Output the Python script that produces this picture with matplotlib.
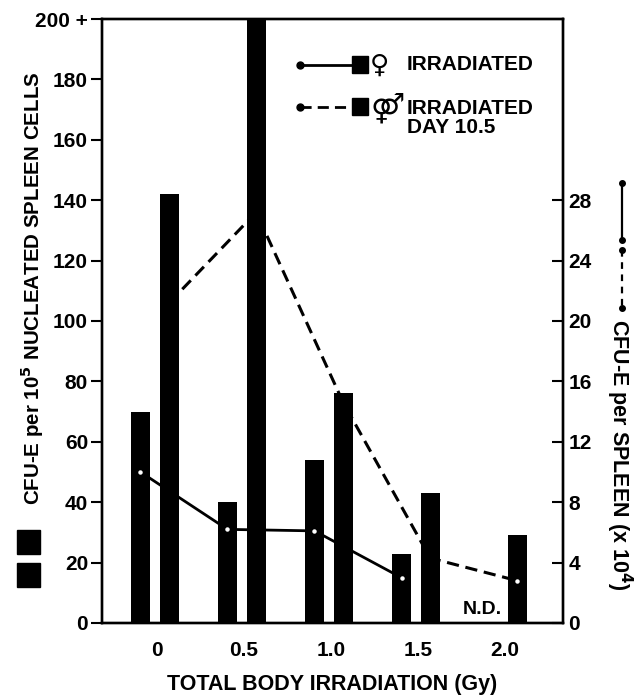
import numpy as np
import matplotlib
matplotlib.use('Agg')
import matplotlib.pyplot as plt
from matplotlib.patches import Rectangle

plt.rcParams['font.family'] = ['Liberation Sans', 'DejaVu Sans']
plt.rcParams['font.weight'] = 'bold'

dose = [0.0, 0.5, 1.0, 1.5, 2.0]
dose_labels = ['0', '0.5', '1.0', '1.5', '2.0']
female_dose = [0.0, 0.5, 1.0, 1.5]   # 2.0 Gy not done

# CFU-E per 10^5 nucleated spleen cells (bars, left axis)
female_cells = [70, 40, 54, 23]
male_cells = [142, 200, 76, 43, 29]

# CFU-E per spleen x 10^4 (lines, right axis)
female_spleen = [10.0, 6.2, 6.1, 3.0]
male_spleen = [21.2, 27.2, 14.6, 4.3, 2.8]

off_f, off_m, w = -0.095, 0.07, 0.11
DASH = (4, 2.2)

fig = plt.figure(figsize=(6.39, 6.96), dpi=100)
ax = fig.add_axes([0.1596, 0.1049, 0.7215, 0.8678])
ax2 = ax.twinx()

xf = np.array(female_dose) + off_f
xm = np.array(dose) + off_m
ax.bar(xf, female_cells, width=w, color='black', zorder=2)
ax.bar(xm, male_cells, width=w, color='black', zorder=2)

ax2.plot(xf, female_spleen, color='black', lw=2.0, zorder=3)
ax2.plot(xm, male_spleen, color='black', lw=2.2, dashes=DASH, zorder=3)
ax2.plot(xf, female_spleen, 'o', color='white', ms=2.2, zorder=4)
ax2.plot(xm[-1:], male_spleen[-1:], 'o', color='white', ms=2.2, zorder=4)

ax.set_xlim(-0.316, 2.333)
ax.set_ylim(0, 200)
ax2.set_ylim(0, 40)

ax.set_xticks(dose)
ax.set_xticklabels(dose_labels, fontsize=15, fontweight='bold')
ax.tick_params(axis='x', length=0, pad=13)
yt = list(range(0, 201, 20))
ax.set_yticks(yt)
ax.set_yticklabels([str(v) for v in yt[:-1]] + ['200 +'], fontsize=15, fontweight='bold')
ax.tick_params(axis='y', direction='out', length=8, width=1.5, pad=2)

ax2.set_yticks(range(0, 29, 4))
ax2.set_yticklabels([str(v) for v in range(0, 29, 4)], fontsize=15, fontweight='bold')
ax2.tick_params(axis='y', direction='in', length=8, width=1.5, pad=4)

for a in (ax, ax2):
    for s in a.spines.values():
        s.set_linewidth(1.7)

ax.set_xlabel('TOTAL BODY IRRADIATION (Gy)', fontsize=15.5, fontweight='bold', labelpad=10)

ax.text(1.87, 1.5, 'N.D.', fontsize=14, fontweight='bold', ha='center', va='bottom')

# legend in upper right
def px(x, y):
    return ((x - 102) / 461.0, (623 - y) / 604.0)

for ypix, style in ((65, '-'), (107, '--')):
    x0, y0 = px(300, ypix)
    x1, _ = px(355, ypix)
    kw = dict(dashes=DASH) if style == '--' else {}
    ax2.plot([x0, x1], [y0, y0], color='black', lw=2.0, transform=ax2.transAxes,
             clip_on=False, **kw)
    ax2.plot([x0], [y0], 'o', color='black', ms=5, transform=ax2.transAxes, clip_on=False)
    sx, sy = px(352, ypix + 8)
    ax2.add_patch(Rectangle((sx, sy), 16 / 461.0, 17 / 604.0, color='black',
                            transform=ax2.transAxes, clip_on=False))

tx, ty = px(379, 66)
ax2.text(tx, ty, '\u2640', fontsize=19, fontweight='bold', family=['DejaVu Sans'],
         ha='center', va='center', transform=ax2.transAxes)
tx, ty = px(388, 108)
ax2.text(tx, ty, '\u26a4', fontsize=21, fontweight='bold', family=['DejaVu Sans'],
         ha='center', va='center', transform=ax2.transAxes)
tx, ty = px(407, 65)
ax2.text(tx, ty, 'IRRADIATED', fontsize=15, fontweight='bold', ha='left', va='center',
         transform=ax2.transAxes)
tx, ty = px(407, 118)
ax2.text(tx, ty, 'IRRADIATED\nDAY 10.5', fontsize=15, fontweight='bold', ha='left',
         va='center', linespacing=0.95, transform=ax2.transAxes)

# left axis title and bar key
fig.text(32 / 639.0, 1 - 288 / 696.0, 'CFU-E per 10$^\\mathbf{5}$ NUCLEATED SPLEEN CELLS',
         rotation=90, fontsize=14.8, fontweight='bold', ha='center', va='center')
for top in (530, 563):
    fig.patches.append(Rectangle((17 / 639.0, 1 - (top + 24) / 696.0), 23 / 639.0, 24 / 696.0,
                                 color='black', transform=fig.transFigure, figure=fig))

# right axis title and line key
fig.text(619 / 639.0, 1 - 455 / 696.0, 'CFU-E per SPLEEN (x 10$^\\mathbf{4}$)',
         rotation=-90, fontsize=15.5, fontweight='bold', ha='center', va='center')
lx = 622 / 639.0
fig.add_artist(plt.Line2D([lx, lx], [1 - 183 / 696.0, 1 - 240 / 696.0], color='black',
                          lw=1.6, marker='o', ms=4, transform=fig.transFigure))
fig.add_artist(plt.Line2D([lx, lx], [1 - 250 / 696.0, 1 - 308 / 696.0], color='black',
                          lw=1.6, dashes=(3, 2.5), marker='o', ms=4, transform=fig.transFigure))

fig.savefig('out.png', dpi=100)
